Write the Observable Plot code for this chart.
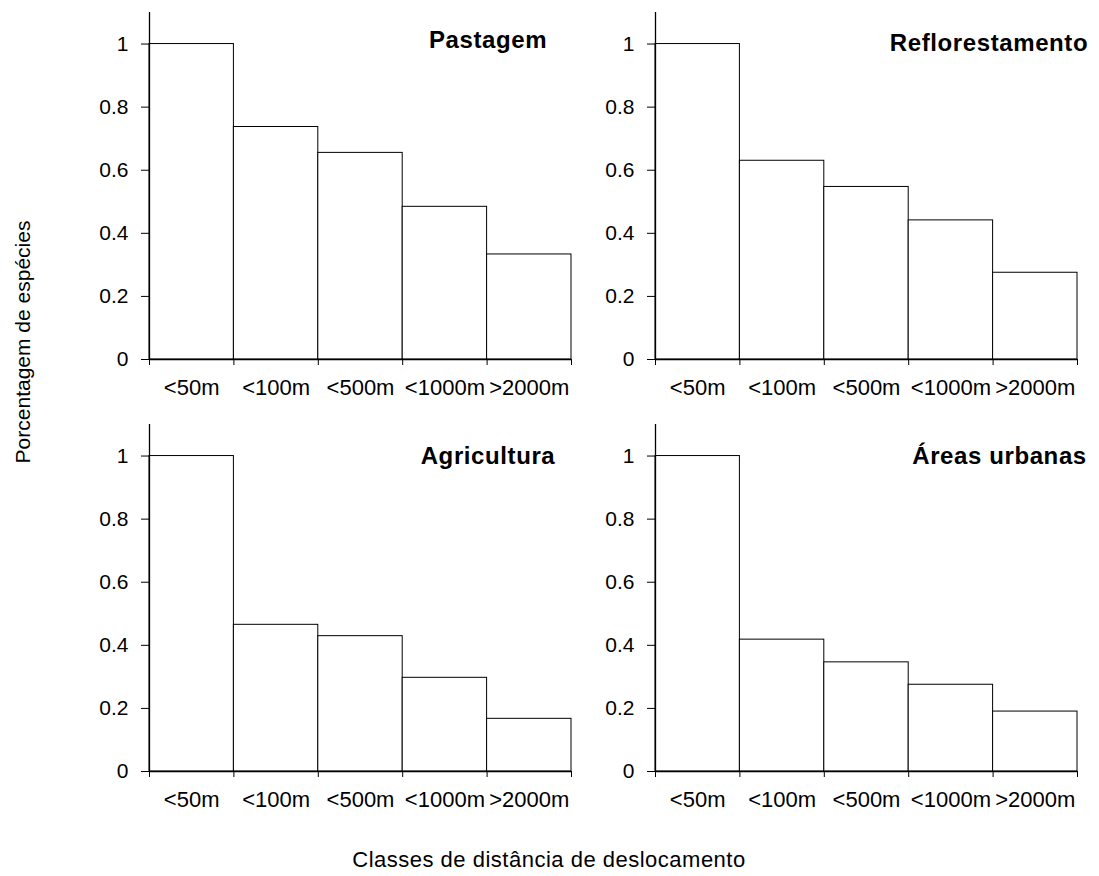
<!DOCTYPE html>
<html>
<head>
<meta charset="utf-8">
<script src="https://cdn.jsdelivr.net/npm/d3@7"></script>
<script src="https://cdn.jsdelivr.net/npm/@observablehq/plot@0.6"></script>
<style>
  html, body { margin: 0; padding: 0; background: #fff; }
  #chart { position: relative; width: 1099px; height: 876px; background: #fff; font-family: "Liberation Sans", Arial, sans-serif; color: #000; }
  #chart svg.panel { position: absolute; overflow: visible; }
  g[aria-label="text"] text { letter-spacing: 0.6px; }
  #titles { position: absolute; left: 0; top: 0; pointer-events: none; }
</style>
</head>
<body>
<div id="chart"></div>
<script>
// ---- data ----
const categories = ["<50m", "<100m", "<500m", "<1000m", ">2000m"];
const pastagem        = [1, 0.737, 0.655, 0.484, 0.333];
const reflorestamento = [1, 0.630, 0.547, 0.441, 0.275];
const agricultura     = [1, 0.465, 0.429, 0.297, 0.167];
const areasUrbanas    = [1, 0.418, 0.346, 0.275, 0.190];
const panelTitles = ["Pastagem", "Reflorestamento", "Agricultura", "Áreas urbanas"];
const yTicks = [0, 0.2, 0.4, 0.6, 0.8, 1];
const xTitle = "Classes de distância de deslocamento";
const yTitle = "Porcentagem de espécies";

// ---- layout ----
const panels = [
  {title: panelTitles[0], values: pastagem,        left: 0,   top: 0,   dx: -83.5, dy: 18.5},
  {title: panelTitles[1], values: reflorestamento, left: 506, top: 0,   dx: -88.5, dy: 21.5},
  {title: panelTitles[2], values: agricultura,     left: 0,   top: 412, dx: -83.5, dy: 22.5},
  {title: panelTitles[3], values: areasUrbanas,    left: 506, top: 412, dx: -78,   dy: 22}
];

const chart = document.getElementById("chart");
const font = '"Liberation Sans", Arial, sans-serif';
const bounds = d3.range(categories.length + 1);
const centers = categories.map((c, i) => i + 0.5);

for (const p of panels) {
  const table = categories.map((c, i) => ({cat: c, i, value: p.values[i]}));
  const svg = Plot.plot({
    width: 590,
    height: 410,
    marginTop: 12,
    marginRight: 19,
    marginBottom: 51,
    marginLeft: 149,
    style: {fontFamily: font, color: "#000", background: "transparent", overflow: "visible"},
    x: {domain: [0, categories.length], label: null},
    y: {domain: [0, 1.1], label: null},
    marks: [
      Plot.rectY(table, {x1: d => d.i, x2: d => d.i + 1, y: "value", fill: "white", stroke: "#000", strokeWidth: 1}),
      Plot.ruleX([0], {stroke: "#000", strokeWidth: 1.3}),
      Plot.ruleY([0], {stroke: "#000", strokeWidth: 1.3}),
      Plot.axisY({ticks: yTicks, tickSize: 8, tickPadding: 13, tickFormat: d => String(d), fontSize: 21, label: null, stroke: "#000"}),
      Plot.axisX({ticks: bounds, tickSize: 6, tickFormat: () => "", label: null, stroke: "#000"}),
      Plot.axisX({ticks: centers, tickSize: 0, tickPadding: 20, tickFormat: d => categories[Math.floor(d)], fontSize: 22, label: null}),
      Plot.text([p.title], {frameAnchor: "top-right", textAnchor: "middle", lineAnchor: "top", dx: p.dx, dy: p.dy, fontSize: 24, fontWeight: "bold", fill: "#000"})
    ]
  });
  svg.classList.add("panel");
  svg.style.left = p.left + "px";
  svg.style.top = p.top + "px";
  chart.appendChild(svg);
}

// axis titles
const ns = "http://www.w3.org/2000/svg";
const overlay = document.createElementNS(ns, "svg");
overlay.setAttribute("id", "titles");
overlay.setAttribute("width", 1099);
overlay.setAttribute("height", 876);
const xt = document.createElementNS(ns, "text");
xt.setAttribute("x", 549);
xt.setAttribute("y", 867);
xt.setAttribute("text-anchor", "middle");
xt.setAttribute("font-size", 22);
xt.setAttribute("font-family", font);
xt.setAttribute("letter-spacing", "0.5px");
xt.textContent = xTitle;
overlay.appendChild(xt);
const yt = document.createElementNS(ns, "text");
yt.setAttribute("transform", "translate(30,342) rotate(-90)");
yt.setAttribute("text-anchor", "middle");
yt.setAttribute("font-size", 21);
yt.setAttribute("font-family", font);
yt.textContent = yTitle;
overlay.appendChild(yt);
chart.appendChild(overlay);
</script>
</body>
</html>
